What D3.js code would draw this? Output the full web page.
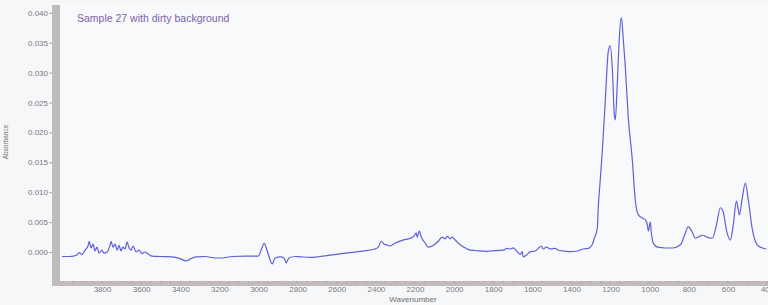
<!DOCTYPE html>
<html>
<head>
<meta charset="utf-8">
<script src="https://cdn.jsdelivr.net/npm/d3@7/dist/d3.min.js"></script>
<style>
body{margin:0;background:#f6f7f9;overflow:hidden;}
text{font-family:"Liberation Sans",Arial,sans-serif;}
.tick text{fill:#7a7a7a;font-size:8px;}
</style>
</head>
<body>
<script>
// spectrum: wavenumber (cm-1) and absorbance
var wavenumber = [4005,3964,3928,3918,3902,3887,3872,3866,3856,3846,3836,3826,3815,3800,3790,3774,3759,3754,3744,3733,3723,3713,3703,3693,3682,3672,3662,3652,3641,3626,3611,3595,3580,3565,3544,3503,3442,3401,3370,3350,3319,3273,3222,3186,3135,3068,3002,2982,2971,2961,2946,2930,2915,2889,2869,2859,2844,2813,
    2787,2736,2685,2583,2480,2404,2388,2373,2357,2347,2327,2301,2260,2224,2204,2194,2189,2178,2168,2148,2133,2112,2081,2061,2046,2035,2020,2010,1994,1969,1933,1918,1892,1841,1815,
    1749,1728,1713,1698,1677,1662,1652,1647,1626,1611,1585,1570,1554,1544,1529,1508,1483,1468,1442,1406,1370,1340,1314,1294,1283,1268,
    1263,1253,1242,1227,1212,1202,1191,1181,1176,1166,1156,1145,1135,1125,1110,1089,1074,1058,1038,1023,1012,1007,997,992,982,961,
    920,884,843,823,803,782,767,751,741,726,710,680,659,639,624,608,588,573,557,547,542,527,511,496,475,450,424,404];
var absorbance = [-0.00075,-0.00075,-0.0005,-0.0001,-0.0004,0.0003,0.001,0.0018,0.0007,0.0013,0.0002,0.0008,-0.0002,0.0003,-0.0002,0,0.0012,0.0018,0.0008,0.0013,0.0003,0.0011,0.0002,0.0008,0.0005,0.0017,0.0007,0.0003,0.001,0,0.0003,-0.00025,0,-0.0003,-0.0007,-0.00075,-0.0008,-0.0011,-0.0015,-0.0012,-0.0008,-0.00075,-0.001,-0.001,-0.00075,-0.0007,-0.0007,0.0007,0.0015,0.0007,-0.0008,-0.002,-0.001,-0.0008,-0.001,-0.0018,-0.001,-0.00075,
    -0.0008,-0.0009,-0.00075,-0.0003,0.0001,0.0005,0.0008,0.0018,0.0013,0.0012,0.001,0.0015,0.002,0.0023,0.0027,0.0032,0.0025,0.0035,0.0025,0.0015,0.0008,0.001,0.0018,0.0025,0.0022,0.0026,0.0022,0.0025,0.002,0.0012,0.0005,0.0003,0.00025,0.0001,0.00017,
    0.0003,0.0006,0.0005,0.0007,0.00005,-0.0004,0.00005,-0.0008,-0.0004,0.00005,0.00017,0.0006,0.001,0.0005,0.0008,0.0005,0.0006,0.0003,0.00017,0.00005,0.00017,0.0005,0.0006,0.0012,0.0023,0.004,
    0.0075,0.012,0.0171,0.0254,0.0335,0.0345,0.0305,0.0229,0.0221,0.028,0.0355,0.0392,0.0355,0.031,0.0226,0.0154,0.0087,0.0062,0.0057,0.0054,0.0045,0.0035,0.005,0.0033,0.0015,0.0008,
    0.00067,0.00067,0.0012,0.0027,0.0042,0.0033,0.0023,0.0025,0.0027,0.0028,0.0025,0.0023,0.0045,0.0074,0.0067,0.0037,0.002,0.0045,0.0085,0.007,0.0062,0.009,0.0115,0.0087,0.0037,0.0012,0.00067,0.0005];

var yTicks = [0.000,0.005,0.010,0.015,0.020,0.025,0.030,0.035,0.040];
var xTicks = [3800,3600,3400,3200,3000,2800,2600,2400,2200,2000,1800,1600,1400,1200,1000,800,600,400];

var width = 768,
    height = 305,
    plotLeft = 60,
    plotTop = 5,
    plotBottom = 281;

var x = d3.scaleLinear().domain([4020,380]).range([59,771]);
var y = d3.scaleLinear().domain([-0.00485,0.0413]).range([plotBottom,plotTop]);

var svg = d3.select("body").append("svg")
    .attr("width",width)
    .attr("height",height);

svg.append("rect")
    .attr("x",plotLeft).attr("y",plotTop)
    .attr("width",width-plotLeft).attr("height",plotBottom-plotTop)
    .attr("fill","#f8f9fb");

// grey axis bars
svg.append("rect")
    .attr("x",52).attr("y",plotTop)
    .attr("width",8).attr("height",plotBottom-plotTop+5)
    .attr("fill","#bcbcbc");
svg.append("rect")
    .attr("x",52).attr("y",plotBottom)
    .attr("width",width-52).attr("height",5)
    .attr("fill","#c2bbbb");

// minor ticks on the bottom bar
svg.append("g")
    .selectAll("line")
    .data(d3.range(4000,350,-50)).enter()
    .append("line")
    .attr("x1",function(d){return x(d);})
    .attr("x2",function(d){return x(d);})
    .attr("y1",plotBottom).attr("y2",plotBottom+2)
    .attr("stroke","#d39a9a")
    .attr("stroke-width",1);

var yAxis = svg.append("g")
    .attr("transform","translate(52,0)")
    .call(d3.axisLeft(y).tickValues(yTicks).tickFormat(d3.format(".3f")).tickSize(3).tickPadding(1));
yAxis.select(".domain").remove();
yAxis.selectAll(".tick line").attr("stroke","#c89c9c");

var xAxis = svg.append("g")
    .attr("transform","translate(0,"+(plotBottom+5)+")")
    .call(d3.axisBottom(x).tickValues(xTicks).tickFormat(d3.format("d")).tickSize(0).tickPadding(0));
xAxis.select(".domain").remove();

svg.append("text")
    .attr("x",413).attr("y",302)
    .attr("text-anchor","middle")
    .attr("fill","#6e6e6e")
    .attr("font-size","8px")
    .text("Wavenumber");

svg.append("text")
    .attr("transform","translate(8,142) rotate(-90)")
    .attr("text-anchor","middle")
    .attr("fill","#6e6e6e")
    .attr("font-size","6.5px")
    .text("Absorbance");

svg.append("text")
    .attr("x",77).attr("y",22)
    .attr("fill","#7d62aa")
    .attr("font-size","10.5px")
    .text("Sample 27 with dirty background");

var pts = wavenumber.map(function(w,i){return {w:w,a:absorbance[i]};});

var line = d3.line()
    .curve(d3.curveMonotoneX)
    .x(function(d){return x(d.w);})
    .y(function(d){return y(d.a);});

svg.append("path")
    .datum(pts)
    .attr("d",line)
    .attr("fill","none")
    .attr("stroke","#5d61d8")
    .attr("stroke-width",1.2)
    .attr("stroke-linejoin","round");
</script>
</body>
</html>
